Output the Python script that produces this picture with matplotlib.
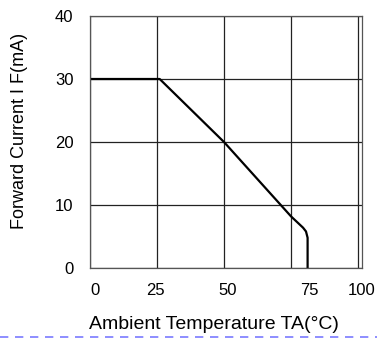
import matplotlib
matplotlib.use('Agg')
import matplotlib.pyplot as plt
from matplotlib.lines import Line2D

plt.rcParams['font.family'] = ['Liberation Sans Narrow', 'Liberation Sans', 'DejaVu Sans']

# derating curve
temp = [0, 26, 50, 75, 79.5, 80.6, 81.2, 81.2]
current = [30, 30, 20, 8.2, 6.4, 5.8, 4.8, 0]

x_ticks = [0, 25, 50, 75, 100]
y_ticks = [0, 10, 20, 30, 40]
x_labels = ['0', '25', '50', '75', '100']
y_labels = ['0', '10', '20', '30', '40']
# where the x labels sit in the original (they drift off the grid)
x_label_pos = [1.8, 24.6, 51.5, 82.0, 101.5]

fig = plt.figure(figsize=(3.77, 3.40), dpi=100)
ax = fig.add_axes([90/377, 72/340, 272/377, 252/340])

ax.plot(temp, current, color='black', lw=1.6, solid_joinstyle='round')

ax.set_xlim(0, 100)
ax.set_ylim(0, 40)

ax.set_xticks(x_ticks)
ax.set_xticklabels([])
ax.set_xticks(x_label_pos, minor=True)
ax.set_xticklabels(x_labels, minor=True, fontsize=12)
ax.set_yticks(y_ticks)
ax.set_yticklabels(y_labels, fontsize=12)
ax.tick_params(axis='both', which='both', length=0)
ax.tick_params(axis='x', which='minor', pad=11)
ax.tick_params(axis='y', pad=12)

ax.grid(True, which='major', color='#222222', lw=0.9)
for s in ax.spines.values():
    s.set_color('#555555')
    s.set_linewidth(0.9)

ax.set_xlabel('Ambient Temperature TA(°C)', fontsize=14)
ax.set_ylabel('Forward Current I F(mA)', fontsize=13)
ax.xaxis.set_label_coords(0.455, -0.226)
ax.yaxis.set_label_coords(-0.26, 0.545)
ax.xaxis.label.set_va('center')
ax.yaxis.label.set_va('center')

# dashed blue rule along the bottom
fig.add_artist(Line2D([0, 1], [3/340, 3/340], transform=fig.transFigure,
                      color='#7a7aff', lw=1.2, linestyle=(0, (5, 4))))

fig.savefig('out.png', dpi=100)
